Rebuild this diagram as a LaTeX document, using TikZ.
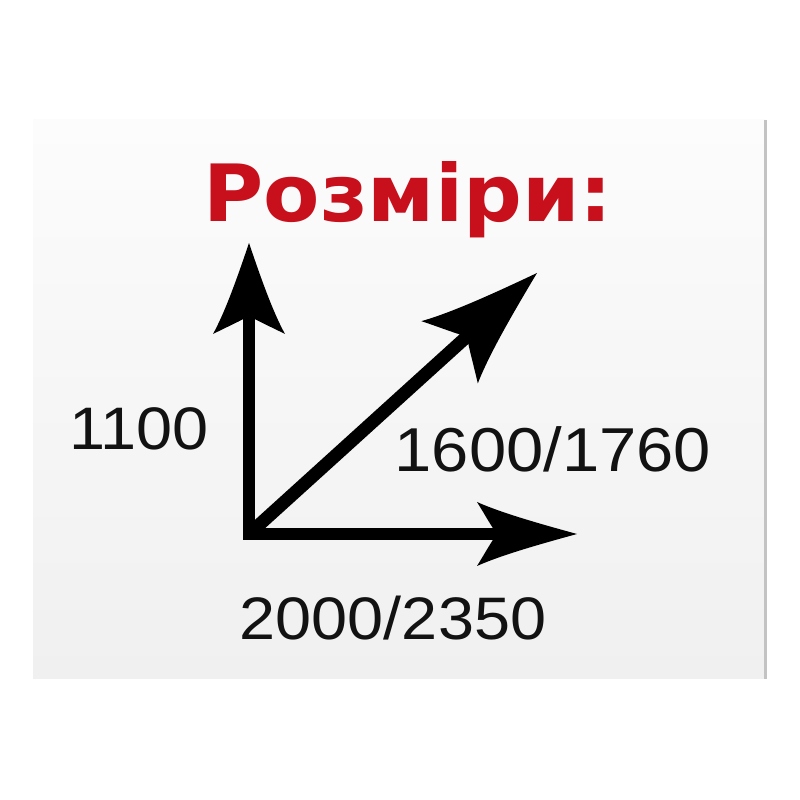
\documentclass[tikz,border=0pt]{standalone}
\usepackage{fontspec}
\setmainfont{Liberation Sans}
\newfontfamily\titlefont{DejaVu Sans}
\definecolor{titlered}{RGB}{200,16,28}
\definecolor{panelTop}{RGB}{252,252,252}
\definecolor{panelBot}{RGB}{240,240,240}
\definecolor{edgegray}{RGB}{195,195,195}
\newcommand\headpath[2]{% #1 = length, #2 = half width; tip at origin, pointing +x
  (0,0) .. controls (-0.35*#1,0.3*#2) and (-0.75*#1,0.65*#2) .. (-#1,#2)
  .. controls (-0.92*#1,0.6*#2) and (-0.85*#1,0.2*#2) .. (-0.8*#1,0)
  .. controls (-0.85*#1,-0.2*#2) and (-0.92*#1,-0.6*#2) .. (-#1,-#2)
  .. controls (-0.75*#1,-0.65*#2) and (-0.35*#1,-0.3*#2) .. (0,0) -- cycle}
\tikzset{
  shaft/.style={line width=12pt, black, line join=miter},
  headfill/.style={fill=black},
  numlabel/.style={inner sep=0pt, anchor=base, font=\fontsize{60}{60}\selectfont, xscale=1.08, text=black!93},
}
\begin{document}
\begin{tikzpicture}[x=1pt,y=1pt]
\useasboundingbox (0,0) rectangle (800,800);
\fill[white] (0,0) rectangle (800,800);
% panel
\shade[top color=panelTop, bottom color=panelBot] (33,680) rectangle (765,121);
\draw[line width=3pt, edgegray] (765,680) -- (765,121);
% title
\node[inner sep=0pt, anchor=base, xscale=1.04, text=titlered, font=\titlefont\bfseries\fontsize{79}{79}\selectfont] (title) at (408,578) {Розміри:};
% key points
\coordinate (o) at (249,266);
\coordinate (ty) at (249,557);
\coordinate (tx) at (577,266);
\coordinate (td) at (537,527);
% shafts
\draw[shaft] ([yshift=-60pt]ty) -- (o) -- ([xshift=-60pt]tx);
\draw[shaft, line width=13pt, shorten >=70pt] (o) -- (td);
% heads
\fill[headfill, shift={(ty)}, rotate=90] \headpath{91}{36};
\fill[headfill, shift={(tx)}] \headpath{100}{32};
\fill[headfill, shift={(td)}, rotate=42.2] \headpath{118}{42};
% labels
\node[numlabel] (h) at (139,350) {1100};
\node[numlabel, font=\fontsize{62}{62}\selectfont] (d) at (553,328) {1600/1760};
\node[numlabel] (w) at (393,160) {2000/2350};
\end{tikzpicture}
\end{document}
